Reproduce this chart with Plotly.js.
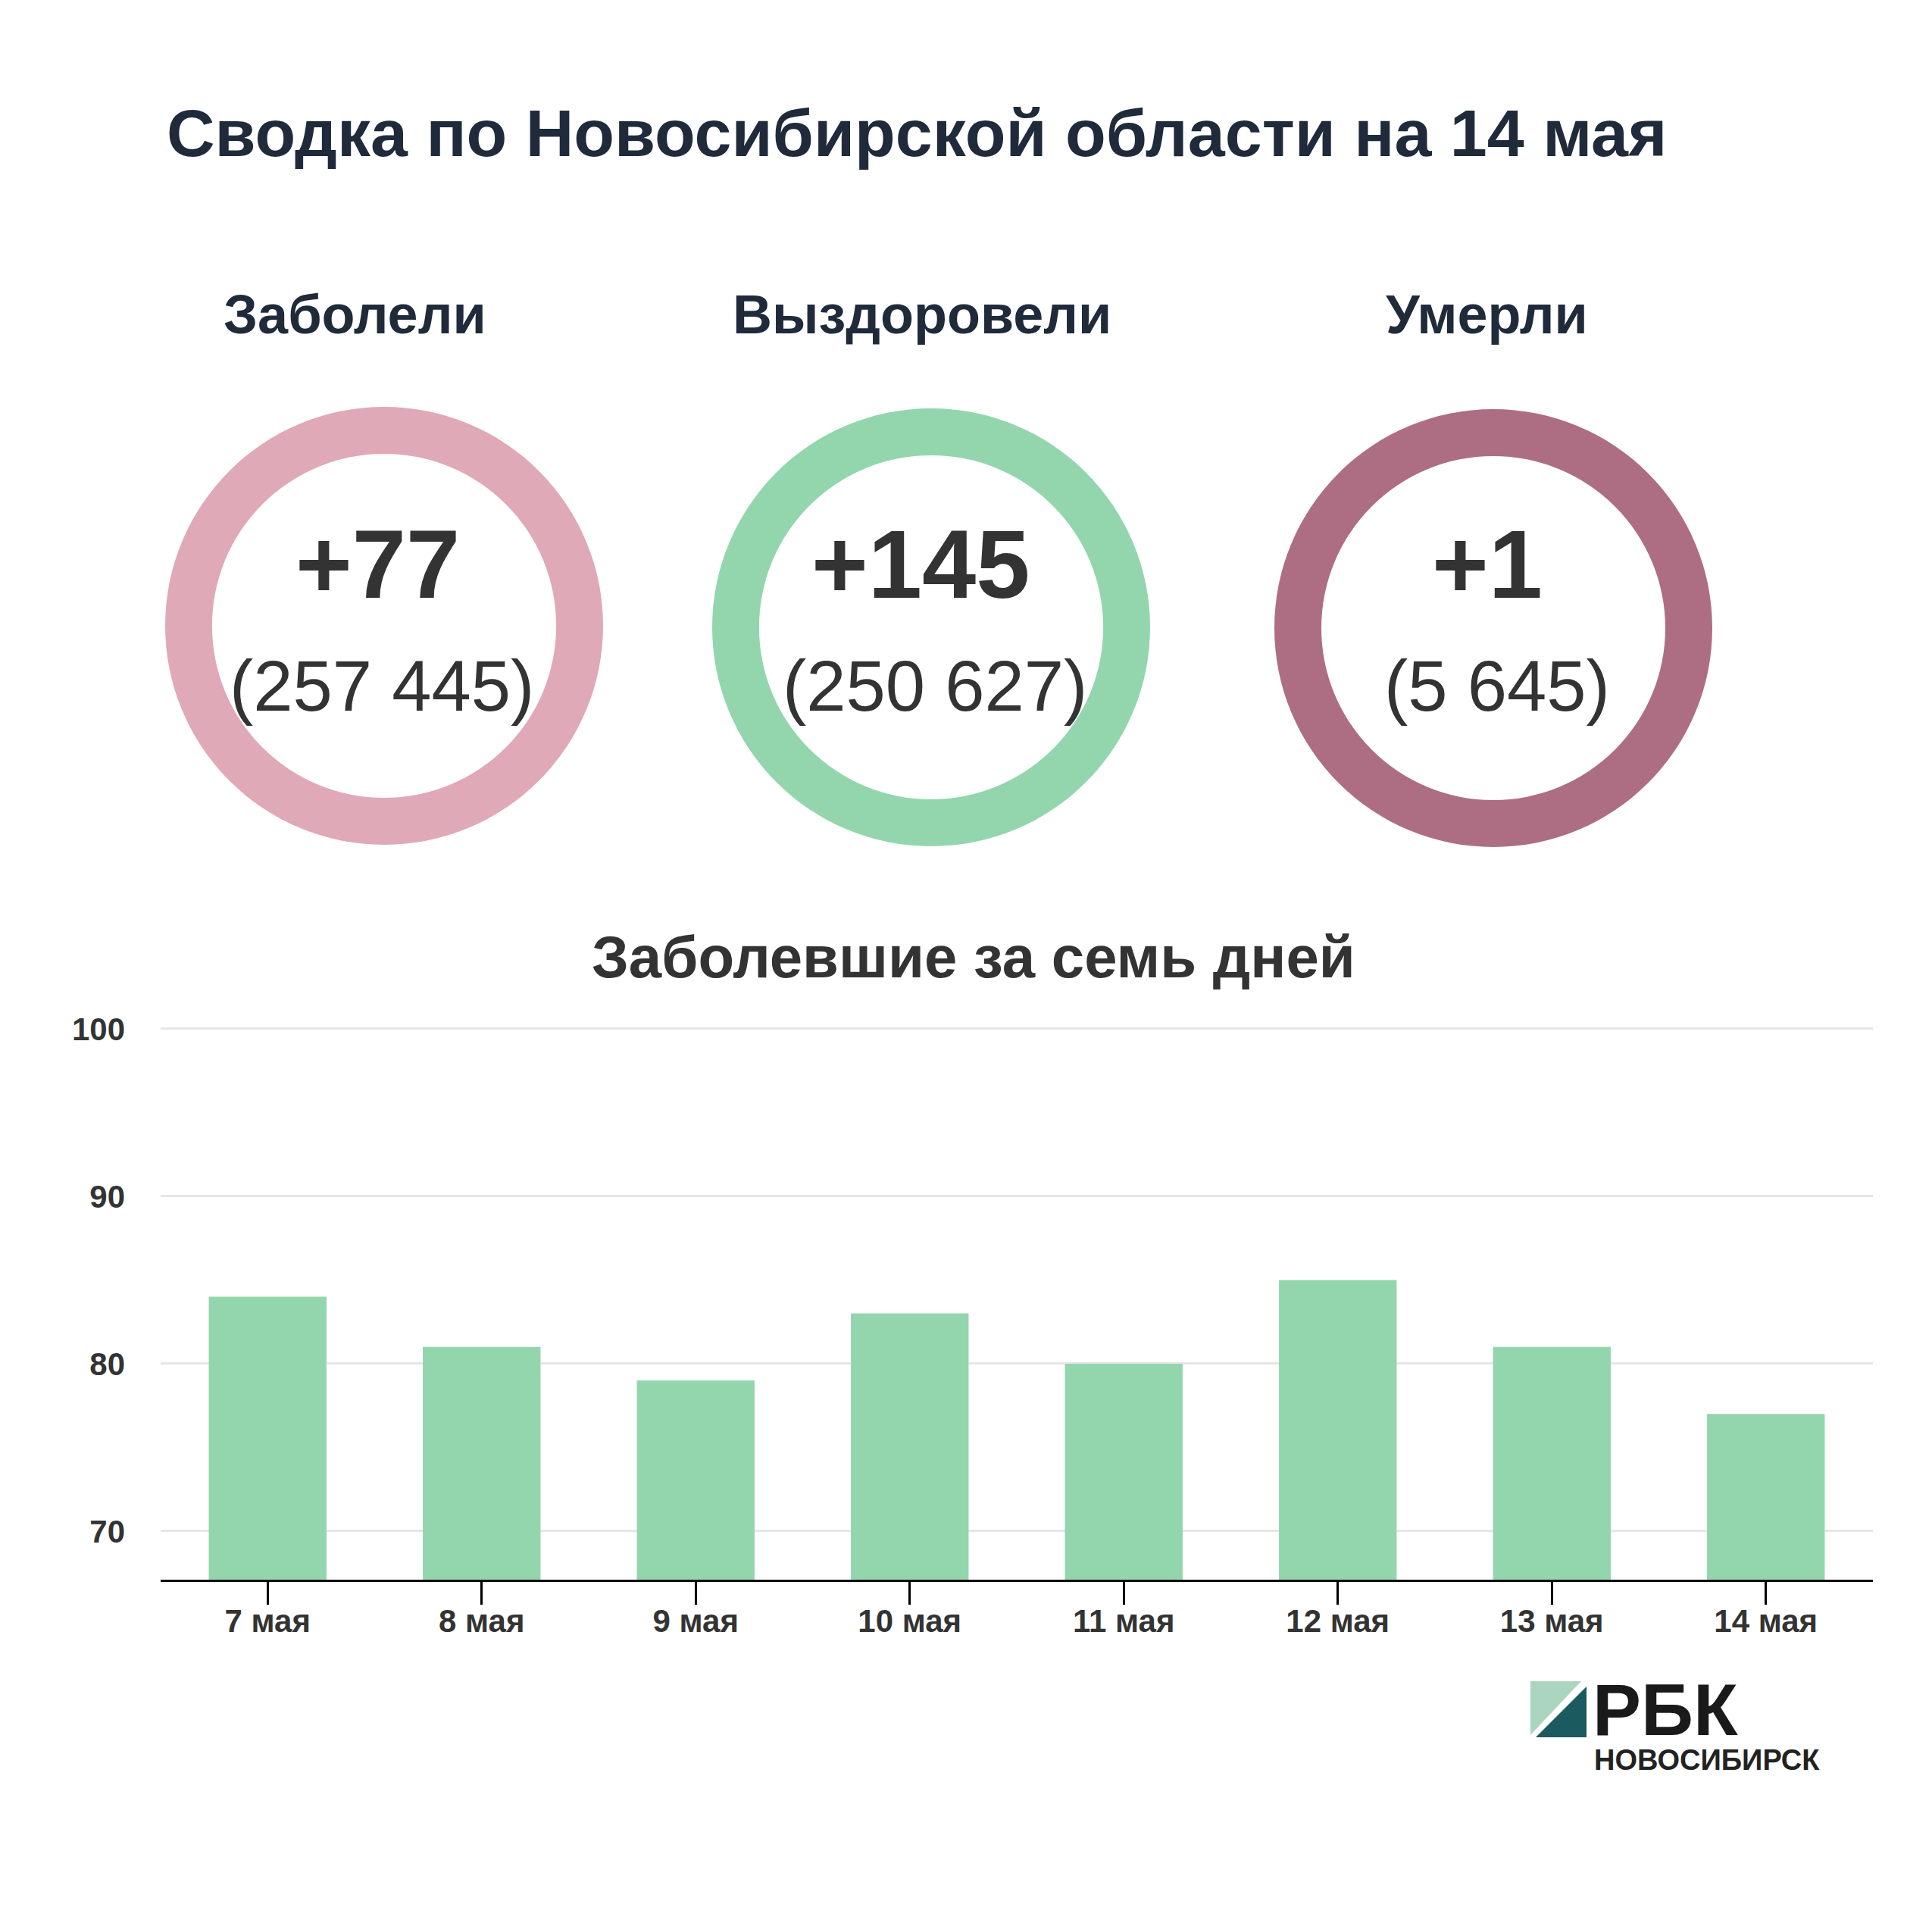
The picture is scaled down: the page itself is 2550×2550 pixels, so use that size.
<!DOCTYPE html>
<html>
<head>
<meta charset="utf-8">
<script src="https://cdn.plot.ly/plotly-3.0.1.min.js"></script>
<style>
  html, body { margin: 0; padding: 0; background: #ffffff; }
  #chart { width: 2550px; height: 2550px; }
</style>
</head>
<body>
<div id="chart"></div>
<script>
// ---- Data ----
const chartTitle = 'Сводка по Новосибирской области на 14 мая';
const barTitle = 'Заболевшие за семь дней';
const days = ['7 мая', '8 мая', '9 мая', '10 мая', '11 мая', '12 мая', '13 мая', '14 мая'];
const newCases = [84, 81, 79, 83, 80, 85, 81, 77];
const yTicks = [70, 80, 90, 100];
const summaryLabels = ['Заболели', 'Выздоровели', 'Умерли'];
const summaryDelta = [77, 145, 1];
const summaryTotal = [257445, 250627, 5645];

// ---- Styles ----
const W = 2550, H = 2550;
const ringColors = ['#dfa9b8', '#93d6ad', '#ad6e83'];
const barColor = '#93d6ad';
const navy = '#1f2b3a';
const dark = '#333333';
const FONT = 'Liberation Sans, Arial, sans-serif';

function px(x) { return x / W; }
function py(y) { return 1 - y / H; }
function fmt(n) { return String(n).replace(/\B(?=(\d{3})+(?!\d))/g, ' '); }

// ring geometry (pixels)
const ringCenters = [[507, 826], [1229, 828], [1971, 829]];
const ringR = 289;
const ringHole = 227 / 289;
const labelX = [468, 1217, 1962];
const deltaX = [498, 1215, 1963];
const totalX = [504, 1234, 1976];

const traces = [];
summaryLabels.forEach((lab, i) => {
  const [cx, cy] = ringCenters[i];
  traces.push({
    type: 'pie',
    values: [1],
    labels: [lab],
    hole: ringHole,
    sort: false,
    textinfo: 'none',
    hoverinfo: 'skip',
    showlegend: false,
    marker: { colors: [ringColors[i]], line: { width: 0 } },
    domain: { x: [px(cx - ringR), px(cx + ringR)], y: [py(cy + ringR), py(cy - ringR)] }
  });
});

traces.push({
  type: 'bar',
  x: days,
  y: newCases,
  marker: { color: barColor, line: { width: 0 } },
  width: 0.55,
  hoverinfo: 'skip',
  showlegend: false,
  xaxis: 'x',
  yaxis: 'y'
});

const annotations = [];
annotations.push({
  xref: 'paper', yref: 'paper', x: px(218), y: py(176),
  xanchor: 'left', yanchor: 'middle', showarrow: false,
  text: '<b>' + chartTitle + '</b>',
  font: { family: FONT, size: 88, color: navy }
});
summaryLabels.forEach((lab, i) => {
  annotations.push({
    xref: 'paper', yref: 'paper', x: px(labelX[i]), y: py(415),
    xanchor: 'center', yanchor: 'middle', showarrow: false,
    text: '<b>' + lab + '</b>',
    font: { family: FONT, size: 72, color: navy }
  });
  annotations.push({
    xref: 'paper', yref: 'paper', x: px(deltaX[i]), y: py(744),
    xanchor: 'center', yanchor: 'middle', showarrow: false,
    text: '<b>+' + fmt(summaryDelta[i]) + '</b>',
    font: { family: FONT, size: 128, color: dark }
  });
  annotations.push({
    xref: 'paper', yref: 'paper', x: px(totalX[i]), y: py(906),
    xanchor: 'center', yanchor: 'middle', showarrow: false,
    text: '(' + fmt(summaryTotal[i]) + ')',
    font: { family: FONT, size: 94, color: dark }
  });
});
annotations.push({
  xref: 'paper', yref: 'paper', x: px(1285), y: py(1263),
  xanchor: 'center', yanchor: 'middle', showarrow: false,
  text: '<b>' + barTitle + '</b>',
  font: { family: FONT, size: 78, color: dark }
});
// logo text
annotations.push({
  xref: 'paper', yref: 'paper', x: px(2100), y: py(2256),
  xanchor: 'left', yanchor: 'middle', showarrow: false,
  text: '<b>РБК</b>',
  font: { family: FONT, size: 96, color: '#1a1a1a' }
});
annotations.push({
  xref: 'paper', yref: 'paper', x: px(2102), y: py(2323),
  xanchor: 'left', yanchor: 'middle', showarrow: false,
  text: '<b>НОВОСИБИРСК</b>',
  font: { family: FONT, size: 38, color: '#222222' }
});

const shapes = [
  { type: 'path', xref: 'paper', yref: 'paper', line: { width: 0 }, fillcolor: '#acd5bf',
    path: `M ${px(2020)} ${py(2219)} L ${px(2087)} ${py(2219)} L ${px(2020)} ${py(2290)} Z` },
  { type: 'path', xref: 'paper', yref: 'paper', line: { width: 0 }, fillcolor: '#1b5a5f',
    path: `M ${px(2094)} ${py(2226)} L ${px(2094)} ${py(2293)} L ${px(2027)} ${py(2293)} Z` }
];

// y axis: 1 unit = 22.1 px, axis bottom at 2085 px
const yMin = 67.1, yMax = 100.4;
const unitPx = 22.1;
const yBottomPx = 2085;
const yTopPx = yBottomPx - (yMax - yMin) * unitPx;

const layout = {
  width: W, height: H,
  margin: { l: 0, r: 0, t: 0, b: 0, pad: 0 },
  paper_bgcolor: '#ffffff',
  plot_bgcolor: '#ffffff',
  font: { family: FONT, color: dark },
  showlegend: false,
  xaxis: {
    domain: [px(212), px(2472)],
    type: 'category',
    range: [-0.5, 7.5],
    showgrid: false,
    zeroline: false,
    showline: true,
    linecolor: '#000000',
    linewidth: 3,
    ticks: 'outside',
    ticklen: 30,
    tickwidth: 3,
    tickcolor: '#000000',
    ticklabelstandoff: -14,
    tickfont: { family: FONT, size: 42, color: dark, weight: 'bold' },
    fixedrange: true
  },
  yaxis: {
    domain: [py(yBottomPx), py(yTopPx)],
    range: [yMin, yMax],
    tickvals: yTicks,
    ticktext: yTicks.map(String),
    showgrid: true,
    gridcolor: '#e6e6e6',
    gridwidth: 3,
    zeroline: false,
    showline: false,
    ticks: '',
    ticklabelstandoff: 46,
    tickfont: { family: FONT, size: 42, color: dark, weight: 'bold' },
    fixedrange: true
  },
  annotations: annotations,
  shapes: shapes
};

Plotly.newPlot('chart', traces, layout, { staticPlot: true, displayModeBar: false });
</script>
</body>
</html>
